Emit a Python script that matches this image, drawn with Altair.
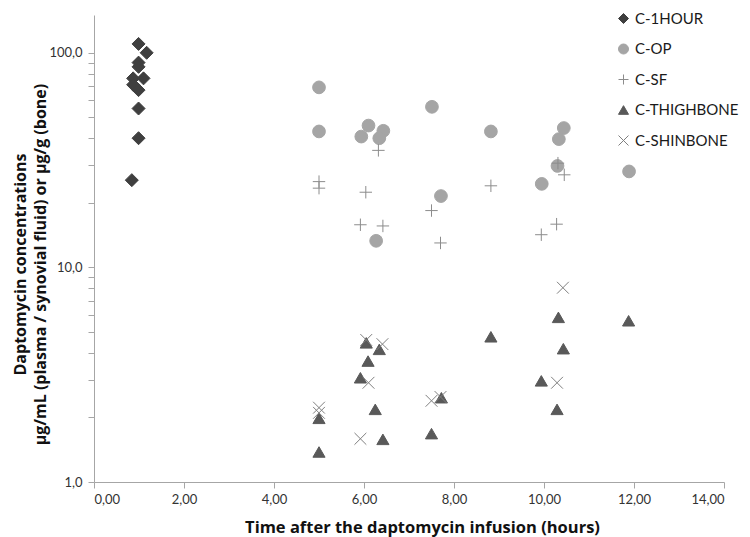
import altair as alt
import pandas as pd

series = ["C-1HOUR", "C-OP", "C-SF", "C-THIGHBONE", "C-SHINBONE"]

h1_x = [0.99, 1.17, 0.99, 0.99, 0.87, 1.10, 0.87, 0.99, 0.99, 0.99, 0.84]
h1_y = [110, 100, 90, 86, 76, 76, 71, 67, 55, 40, 25.5]

op_x = [5.00, 5.00, 7.51, 6.10, 5.94, 6.43, 6.34, 7.71, 6.27, 8.82, 10.44, 10.33, 10.30, 9.95, 11.89]
op_y = [69, 43, 56, 45.8, 40.7, 43.3, 40.0, 21.5, 13.3, 43.0, 44.6, 39.6, 29.7, 24.5, 28.0]

sf_x = [6.32, 5.00, 5.00, 6.04, 7.50, 5.92, 6.42, 7.70, 8.82, 10.31, 10.45, 10.28, 9.94]
sf_y = [35.1, 25.1, 23.4, 22.4, 18.4, 15.8, 15.6, 13.0, 24.0, 30.6, 27.0, 15.9, 14.2]

th_x = [6.05, 6.34, 6.09, 5.92, 5.00, 6.25, 7.72, 7.50, 6.42, 5.00, 10.32, 11.88, 8.82, 10.43, 9.94, 10.29]
th_y = [4.45, 4.15, 3.66, 3.06, 1.98, 2.18, 2.47, 1.68, 1.58, 1.38, 5.85, 5.64, 4.75, 4.18, 2.96, 2.18]

sh_x = [6.05, 6.41, 6.10, 5.00, 5.00, 7.50, 7.70, 5.92, 10.42, 10.29]
sh_y = [4.59, 4.39, 2.90, 2.22, 2.10, 2.39, 2.49, 1.59, 8.04, 2.90]

x_ticks = [0, 2, 4, 6, 8, 10, 12, 14]
y_ticks = [1, 2, 3, 4, 5, 6, 7, 8, 9, 10, 20, 30, 40, 50, 60, 70, 80, 90, 100]

rows = []
for name, xs, ys in zip(series, [h1_x, op_x, sf_x, th_x, sh_x], [h1_y, op_y, sf_y, th_y, sh_y]):
    for xv, yv in zip(xs, ys):
        rows.append({"series": name, "sz": name, "x": xv, "y": yv, "idx": len(rows)})
df = pd.DataFrame(rows)

shapes = ["diamond", "circle", "M-1,0L1,0M0,-1L0,1", "triangle-up", "M-1,-1L1,1M-1,1L1,-1"]
colors = ["#3F3F3F", "#A5A5A5", "#8C8C8C", "#595959", "#7F7F7F"]
sizes = [169, 140, 180, 185, 225]

def leg():
    return alt.Legend(title=None, orient="none", legendX=522, legendY=-4)

chart = alt.Chart(df).mark_point(filled=True, opacity=1, strokeWidth=1).encode(
    x=alt.X("x:Q",
            scale=alt.Scale(domain=[0, 14], nice=False, zero=False),
            axis=alt.Axis(values=x_ticks,
                          labelExpr="replace(format(datum.value, '.2f'), '.', ',')",
                          title="Time after the daptomycin infusion (hours)",
                          titleX=328, titleY=50, titleBaseline="alphabetic",
                          titleAlign="center", titleFontSize=16.5,
                          labelPadding=5, tickSize=6)),
    y=alt.Y("y:Q",
            scale=alt.Scale(type="log", domain=[1, 150], nice=False),
            axis=alt.Axis(values=y_ticks, labelOverlap=False,
                          labelExpr="(datum.value == 1 || datum.value == 10 || datum.value == 100) ? replace(format(datum.value, '.1f'), '.', ',') : ''",
                          title=["Daptomycin concentrations",
                                 "µg/mL (plasma / synovial fluid) or µg/g (bone)"],
                          titleAngle=270, titleX=-69, titleY=249,
                          titleAlign="center", titleBaseline="alphabetic",
                          titleLineHeight=20, titleFontSize=16,
                          labelPadding=6, tickSize=6)),
    shape=alt.Shape("series:N", scale=alt.Scale(domain=series, range=shapes), legend=leg()),
    fill=alt.Fill("series:N", scale=alt.Scale(domain=series, range=colors), legend=leg()),
    stroke=alt.Stroke("series:N", scale=alt.Scale(domain=series, range=colors), legend=leg()),
    size=alt.Size("sz:N", sort=series, scale=alt.Scale(range=sizes), legend=None),
    order=alt.Order("idx:Q"),
).properties(
    width=630, height=467,
    autosize=alt.AutoSizeParams(type="none"),
    padding={"left": 86, "top": 7, "right": 18, "bottom": 55},
).configure_view(stroke=None).configure_axis(
    grid=False,
    domainColor="#A6A6A6", tickColor="#A6A6A6",
    labelFont="Lato", labelFontSize=13, labelColor="#333333",
    titleFont="Open Sans", titleFontWeight="bold", titleColor="#111111",
).configure_legend(
    padding=0, labelLimit=200,
    labelFont="Lato", labelFontSize=15, labelColor="#1a1a1a",
    symbolSize=100, symbolStrokeWidth=1, rowPadding=14.5, labelOffset=4,
)

chart.save("out.html", embed_options={"renderer": "svg", "actions": False})
